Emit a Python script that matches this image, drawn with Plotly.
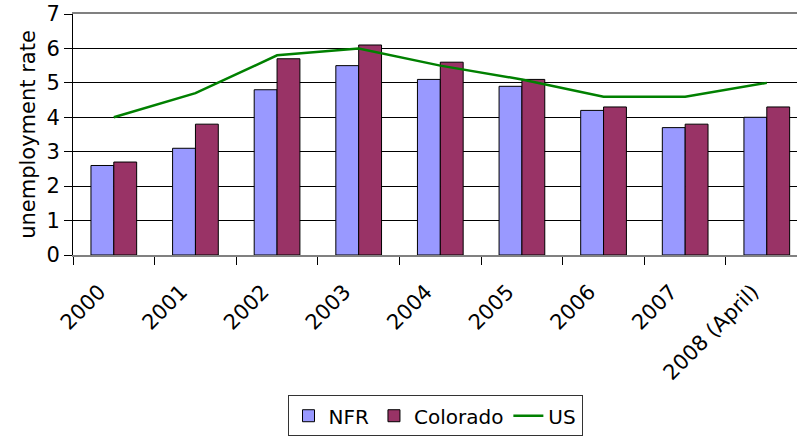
import plotly.graph_objects as go

categories = ["2000", "2001", "2002", "2003", "2004", "2005", "2006", "2007", "2008 (April)"]
nfr = [2.6, 3.1, 4.8, 5.5, 5.1, 4.9, 4.2, 3.7, 4.0]
colorado = [2.7, 3.8, 5.7, 6.1, 5.6, 5.1, 4.3, 3.8, 4.3]
us = [4.0, 4.7, 5.8, 6.0, 5.5, 5.1, 4.6, 4.6, 5.0]
y_ticks = [0, 1, 2, 3, 4, 5, 6, 7]

FONT = "DejaVu Sans"

fig = go.Figure()
fig.add_trace(go.Bar(x=categories, y=nfr, name="NFR",
                     marker=dict(color="#9999FF", line=dict(color="black", width=1))))
fig.add_trace(go.Bar(x=categories, y=colorado, name="Colorado",
                     marker=dict(color="#993366", line=dict(color="black", width=1))))
fig.add_trace(go.Scatter(x=categories, y=us, name="US", mode="lines",
                         line=dict(color="#008000", width=2.5)))

fig.update_layout(
    width=797, height=439,
    margin=dict(l=73, r=0, t=14, b=184),
    paper_bgcolor="white", plot_bgcolor="white",
    font=dict(family=FONT, size=20, color="black"),
    barmode="group", bargap=0.44, bargroupgap=0,
    showlegend=True,
    legend=dict(orientation="h", x=0.5, xanchor="center", y=-0.752, yanchor="bottom",
                bordercolor="#333333", borderwidth=1, font=dict(size=20),
                tracegroupgap=0),
    xaxis=dict(type="category", range=[-0.5, 8.37], tickangle=-45, automargin=False,
               showline=True, linecolor="#808080", linewidth=2, mirror=True,
               ticks="outside", tickson="boundaries", ticklen=8, tickcolor="black",
               showgrid=False, tickfont=dict(size=21),
               ticksuffix="   "),
    yaxis=dict(range=[0, 7], tickvals=y_ticks, showgrid=True, gridcolor="black",
               gridwidth=1, showline=True, linecolor="black", linewidth=1,
               ticks="outside", ticklen=8, tickcolor="black", zeroline=False,
               tickfont=dict(size=21), automargin=False,
               title=dict(text="unemployment rate", font=dict(size=21), standoff=5)),
)

fig.write_html("out.html", config={"displayModeBar": False},
               post_script="document.body.style.margin='0';document.body.style.overflow='hidden';")
